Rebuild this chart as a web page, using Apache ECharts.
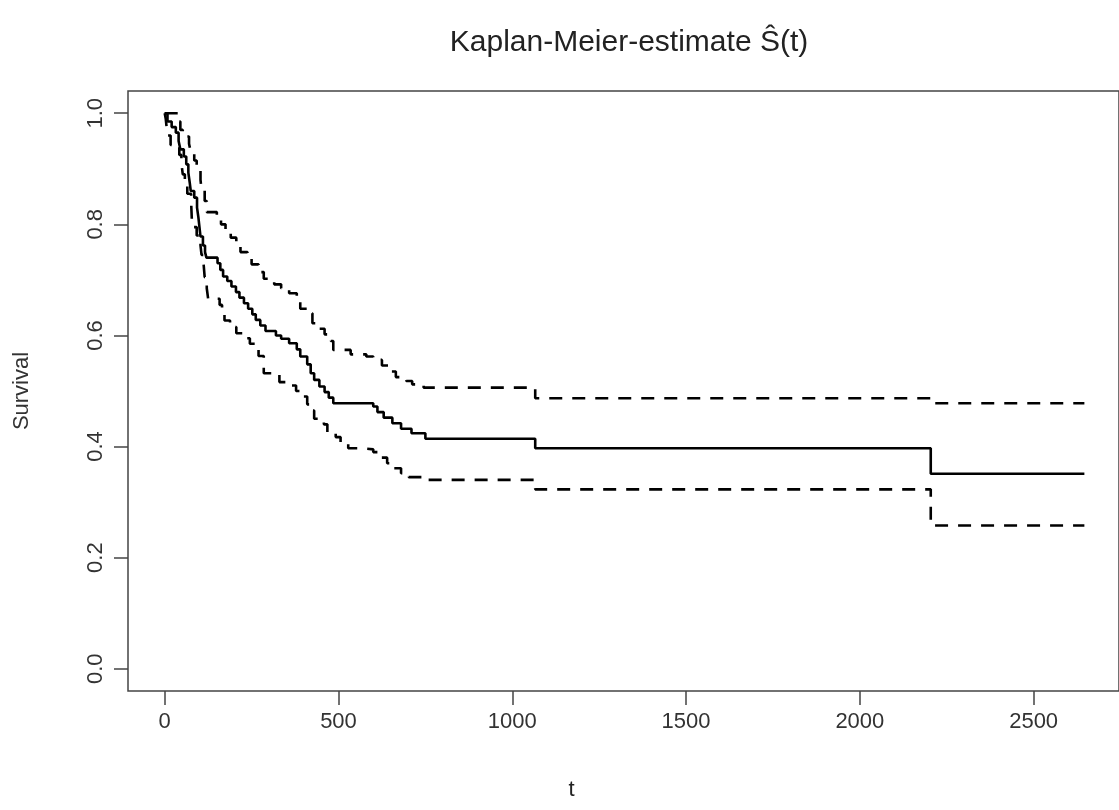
<!DOCTYPE html>
<html>
<head>
<meta charset="utf-8">
<title>Kaplan-Meier-estimate</title>
<script src="https://cdn.jsdelivr.net/npm/echarts@6/dist/echarts.min.js"></script>
<style>
  html, body { margin: 0; padding: 0; background: #ffffff; }
  #chart { width: 1119px; height: 810px; }
</style>
</head>
<body>
<div id="chart"></div>
<script>
// Kaplan-Meier survival estimate: [time, S(t)] at each change point
const survival = [
  [0, 1.0], [8, 0.985], [20, 0.975], [32, 0.965], [40, 0.95], [45, 0.935], [55, 0.922],
  [62, 0.908], [68, 0.893], [72, 0.875], [75, 0.86], [85, 0.848], [93, 0.83], [97, 0.812],
  [100, 0.795], [103, 0.778], [110, 0.762], [116, 0.75], [120, 0.74], [152, 0.73],
  [160, 0.718], [168, 0.706], [180, 0.698], [192, 0.688], [205, 0.678], [215, 0.668],
  [228, 0.658], [240, 0.648], [252, 0.638], [262, 0.628], [275, 0.618], [290, 0.608],
  [320, 0.6], [335, 0.594], [358, 0.586], [380, 0.575], [390, 0.562], [410, 0.548],
  [420, 0.532], [430, 0.52], [445, 0.508], [460, 0.498], [472, 0.488], [485, 0.478],
  [600, 0.472], [612, 0.462], [630, 0.452], [655, 0.442], [680, 0.432], [710, 0.424],
  [750, 0.414], [1066, 0.397], [2204, 0.351], [2646, 0.351]
];

// upper 95% confidence bound
const upperCI = [
  [0, 1.0], [38, 0.985], [45, 0.97], [52, 0.958], [70, 0.945], [75, 0.93], [85, 0.915],
  [92, 0.9], [103, 0.88], [106, 0.862], [115, 0.842], [121, 0.822], [150, 0.814],
  [162, 0.8], [175, 0.785], [190, 0.776], [206, 0.762], [218, 0.75], [238, 0.74],
  [250, 0.728], [270, 0.714], [285, 0.702], [315, 0.692], [335, 0.685], [358, 0.676],
  [380, 0.668], [390, 0.648], [418, 0.64], [425, 0.622], [445, 0.612], [460, 0.602],
  [478, 0.59], [485, 0.574], [535, 0.566], [580, 0.562], [600, 0.556], [625, 0.546],
  [650, 0.535], [665, 0.525], [695, 0.518], [712, 0.512], [745, 0.506], [1066, 0.487],
  [2204, 0.478], [2646, 0.478]
];

// lower 95% confidence bound
const lowerCI = [
  [0, 1.0], [3, 0.99], [8, 0.96], [17, 0.943], [42, 0.925], [48, 0.91], [52, 0.89],
  [58, 0.875], [65, 0.855], [76, 0.84], [78, 0.81], [80, 0.795], [92, 0.78], [103, 0.762],
  [106, 0.745], [112, 0.728], [115, 0.705], [121, 0.685], [125, 0.666], [158, 0.655],
  [165, 0.64], [172, 0.627], [188, 0.615], [206, 0.604], [225, 0.595], [245, 0.585],
  [262, 0.575], [270, 0.563], [285, 0.532], [330, 0.516], [352, 0.51], [378, 0.5],
  [390, 0.49], [410, 0.476], [422, 0.465], [430, 0.45], [458, 0.44], [468, 0.426],
  [492, 0.417], [506, 0.406], [528, 0.397], [565, 0.395], [600, 0.39], [617, 0.38],
  [640, 0.37], [660, 0.361], [680, 0.352], [702, 0.345], [740, 0.34], [1066, 0.323],
  [2204, 0.258], [2646, 0.258]
];

// tick positions
const xTicks = [0, 500, 1000, 1500, 2000, 2500];
const yTicks = [0.0, 0.2, 0.4, 0.6, 0.8, 1.0];

const FONT = "'Liberation Sans', Arial, sans-serif";

const chart = echarts.init(document.getElementById('chart'), null, { renderer: 'canvas' });

// axis ranges padded by 4% of the data range on each side
const xMax = 2640;
const xPad = xMax * 0.04;

chart.setOption({
  animation: false,
  backgroundColor: '#ffffff',
  title: {
    text: 'Kaplan-Meier-estimate Ŝ(t)',
    left: 624,
    top: 23,
    textAlign: 'center',
    textStyle: { fontFamily: FONT, fontSize: 30, fontWeight: 'normal', color: '#222' }
  },
  grid: {
    left: 128, top: 91, right: -2, bottom: 119,
    show: true, borderColor: '#444', borderWidth: 1.5, backgroundColor: 'transparent'
  },
  xAxis: {
    type: 'value',
    min: -xPad, max: xMax + xPad,
    name: 't',
    nameLocation: 'middle',
    nameGap: 88,
    nameTextStyle: { fontFamily: FONT, fontSize: 22, color: '#222', padding: [0, 104, 0, 0] },
    axisLine: { show: false, onZero: false },
    splitLine: { show: false },
    axisTick: { show: true, inside: false, length: 14, customValues: xTicks, lineStyle: { color: '#444', width: 1.5 } },
    axisLabel: {
      customValues: xTicks, margin: 20,
      fontFamily: FONT, fontSize: 22, color: '#333',
      formatter: v => String(v)
    }
  },
  yAxis: {
    type: 'value',
    min: -0.04, max: 1.04,
    name: 'Survival',
    nameLocation: 'middle',
    nameRotate: 90,
    nameGap: 95,
    nameTextStyle: { fontFamily: FONT, fontSize: 22, color: '#333' },
    axisLine: { show: false, onZero: false },
    splitLine: { show: false },
    axisTick: { show: true, inside: false, length: 14, customValues: yTicks, lineStyle: { color: '#444', width: 1.5 } },
    axisLabel: {
      customValues: yTicks, margin: 21, rotate: 90,
      fontFamily: FONT, fontSize: 22, color: '#333',
      formatter: v => v.toFixed(1)
    }
  },
  series: [
    {
      name: 'S(t)', type: 'line', step: 'end', data: survival,
      showSymbol: false, silent: true,
      lineStyle: { color: '#000', width: 2.6 }
    },
    {
      name: 'upper', type: 'line', step: 'end', data: upperCI,
      showSymbol: false, silent: true,
      lineStyle: { color: '#000', width: 2.6, type: [13, 10] }
    },
    {
      name: 'lower', type: 'line', step: 'end', data: lowerCI,
      showSymbol: false, silent: true,
      lineStyle: { color: '#000', width: 2.6, type: [13, 10] }
    }
  ]
});
</script>
</body>
</html>
